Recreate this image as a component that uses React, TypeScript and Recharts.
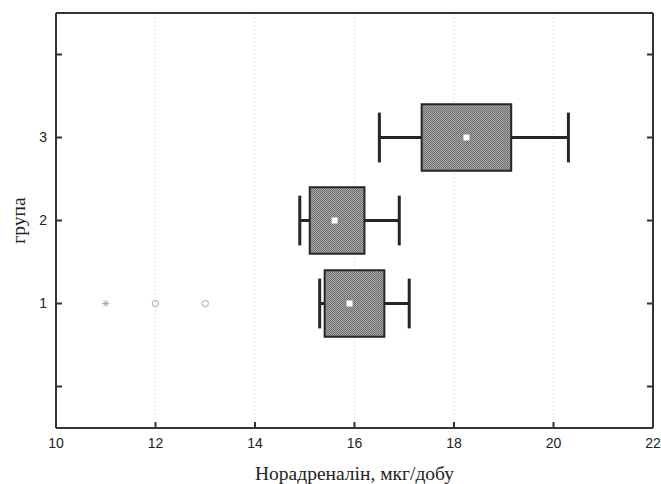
import React from "react";
import {
  CartesianGrid,
  ComposedChart,
  ReferenceArea,
  ReferenceLine,
  Scatter,
  XAxis,
  YAxis,
} from "recharts";

const groups = [1, 2, 3];
const whiskerLow = [15.3, 14.9, 16.5];
const boxLow = [15.4, 15.1, 17.35];
const boxHigh = [16.6, 16.2, 19.15];
const whiskerHigh = [17.1, 16.9, 20.3];
const means = [15.9, 15.6, 18.25];
const extremes = [{ x: 11, y: 1 }];
const outliers = [
  { x: 12, y: 1 },
  { x: 13, y: 1 },
];
const xTicks = [10, 12, 14, 16, 18, 20, 22];
const yTicks = [0, 1, 2, 3, 4];

const BOX_HALF = 0.4;
const CAP_HALF = 0.3;
const DARK = "#262626";

const meanData = groups.map((g, i) => ({ x: means[i], y: g }));

const tickFont = { fontFamily: "Liberation Sans, Arial, sans-serif", fontSize: 14, fill: "#222" };
const labelFont = { fontFamily: "Liberation Serif, Times New Roman, serif", fontSize: 19.5, fill: "#222" };
const frame = { stroke: "#333", strokeWidth: 2 };

const MeanMark = (p: any) => (
  <rect x={p.cx - 3} y={p.cy - 3} width={6} height={6} fill="#fff" />
);

const Ring = (p: any) => (
  <circle cx={p.cx} cy={p.cy} r={3.2} fill="none" stroke="#aaa" strokeWidth={1} />
);

const Star = (p: any) => (
  <g stroke="#aaa" strokeWidth={1}>
    <line x1={p.cx - 3.5} y1={p.cy} x2={p.cx + 3.5} y2={p.cy} />
    <line x1={p.cx} y1={p.cy - 3.5} x2={p.cx} y2={p.cy + 3.5} />
    <line x1={p.cx - 2.5} y1={p.cy - 2.5} x2={p.cx + 2.5} y2={p.cy + 2.5} />
    <line x1={p.cx - 2.5} y1={p.cy + 2.5} x2={p.cx + 2.5} y2={p.cy - 2.5} />
  </g>
);

export default function App() {
  return (
    <div style={{ position: "absolute", left: 0, top: 0 }}>
      <ComposedChart
        width={661}
        height={484}
        margin={{ top: 12, right: 7, bottom: 0, left: 0 }}
      >
        <defs>
          <pattern id="boxFill" width="2" height="2" patternUnits="userSpaceOnUse">
            <rect width="2" height="2" fill="#a6a6a6" />
            <rect width="1" height="1" fill="#707070" />
            <rect x="1" y="1" width="1" height="1" fill="#707070" />
          </pattern>
        </defs>
        <CartesianGrid horizontal={false} stroke="#e4e4e4" strokeDasharray="2 2" />
        <XAxis
          type="number"
          dataKey="x"
          domain={[10, 22]}
          ticks={xTicks}
          allowDataOverflow
          height={56}
          tickSize={-6}
          tickMargin={16}
          axisLine={frame}
          tickLine={frame}
          tick={tickFont}
          fontSize={14}
          label={{
            value: "Норадреналін, мкг/добу",
            position: "insideBottom",
            offset: 4.5,
            style: labelFont,
          }}
        />
        <XAxis
          xAxisId="top"
          orientation="top"
          type="number"
          domain={[10, 22]}
          ticks={xTicks}
          allowDataOverflow
          height={1}
          tickSize={-6}
          axisLine={frame}
          tickLine={frame}
          tickFormatter={() => ""}
        />
        <YAxis
          type="number"
          dataKey="y"
          domain={[-0.5, 4.5]}
          ticks={yTicks}
          allowDataOverflow
          width={56}
          tickSize={-6}
          tickMargin={15}
          axisLine={frame}
          tickLine={frame}
          tick={tickFont}
          fontSize={14}
          tickFormatter={(v: number) => (groups.includes(v) ? String(v) : "")}
          label={{
            value: "група",
            angle: -90,
            position: "insideLeft",
            offset: 18,
            textAnchor: "middle",
            style: labelFont,
          }}
        />
        <YAxis
          yAxisId="right"
          orientation="right"
          type="number"
          domain={[-0.5, 4.5]}
          ticks={yTicks}
          allowDataOverflow
          width={1}
          tickSize={-6}
          axisLine={frame}
          tickLine={frame}
          tickFormatter={() => ""}
        />

        {groups.map((g, i) => (
          <ReferenceLine
            key={`wl${g}`}
            segment={[
              { x: whiskerLow[i], y: g },
              { x: boxLow[i], y: g },
            ]}
            stroke={DARK}
            strokeWidth={3}
          />
        ))}
        {groups.map((g, i) => (
          <ReferenceLine
            key={`wh${g}`}
            segment={[
              { x: boxHigh[i], y: g },
              { x: whiskerHigh[i], y: g },
            ]}
            stroke={DARK}
            strokeWidth={3}
          />
        ))}
        {groups.map((g, i) => (
          <ReferenceLine
            key={`cl${g}`}
            segment={[
              { x: whiskerLow[i], y: g - CAP_HALF },
              { x: whiskerLow[i], y: g + CAP_HALF },
            ]}
            stroke={DARK}
            strokeWidth={3}
          />
        ))}
        {groups.map((g, i) => (
          <ReferenceLine
            key={`ch${g}`}
            segment={[
              { x: whiskerHigh[i], y: g - CAP_HALF },
              { x: whiskerHigh[i], y: g + CAP_HALF },
            ]}
            stroke={DARK}
            strokeWidth={3}
          />
        ))}
        {groups.map((g, i) => (
          <ReferenceArea
            key={`box${g}`}
            x1={boxLow[i]}
            x2={boxHigh[i]}
            y1={g - BOX_HALF}
            y2={g + BOX_HALF}
            fill="url(#boxFill)"
            fillOpacity={1}
            stroke={DARK}
            strokeWidth={2}
          />
        ))}

        <Scatter data={meanData} shape={MeanMark} isAnimationActive={false} />
        <Scatter data={outliers} shape={Ring} isAnimationActive={false} />
        <Scatter data={extremes} shape={Star} isAnimationActive={false} />
      </ComposedChart>
    </div>
  );
}
